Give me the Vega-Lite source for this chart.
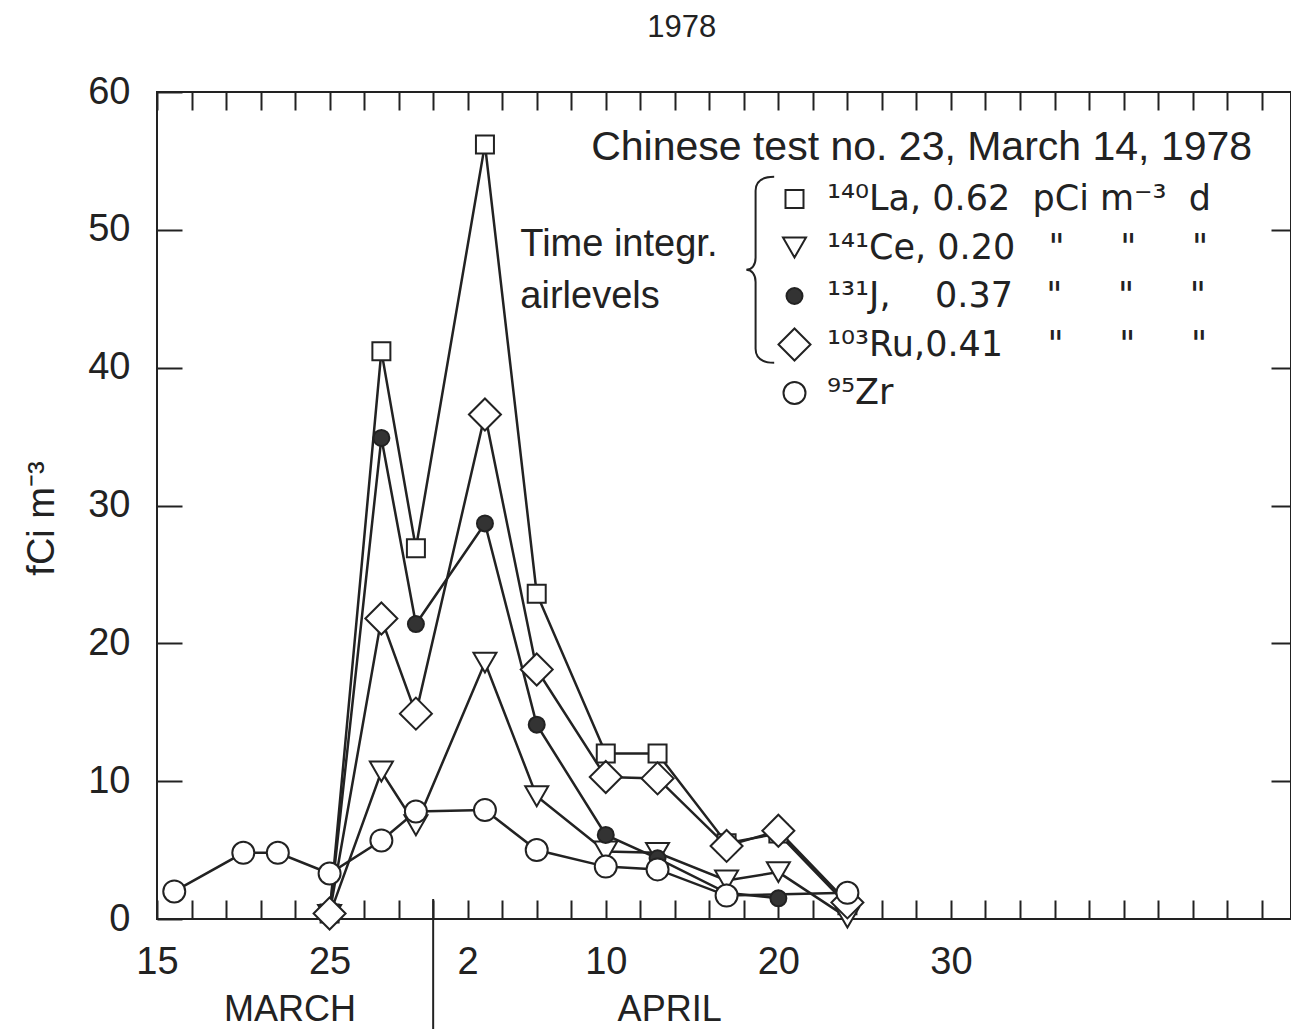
{
  "$schema": "https://vega.github.io/schema/vega-lite/v6.json",
  "width": 1134,
  "height": 827,
  "autosize": {"type": "none"},
  "padding": {"left": 157, "top": 92, "right": 0, "bottom": 110},
  "background": "white",
  "config": {
    "view": {"stroke": "#222", "strokeWidth": 2},
    "font": "Liberation Sans",
    "axis": {"grid": false, "domain": false, "tickColor": "#222", "tickWidth": 2, "labelColor": "#222", "labelFont": "Liberation Sans", "labelFontSize": 38, "labelOverlap": false, "labelBound": false, "labelFlush": false},
    "legend": {"orient": "none", "legendX": 620, "legendY": 85, "padding": 0, "labelFont": "DejaVu Sans", "labelFontSize": 35, "labelColor": "#222", "labelLimit": 900, "clipHeight": 44, "rowPadding": 4.5, "labelOffset": 15, "symbolStrokeColor": "#222", "symbolStrokeWidth": 2}
  },
  "data": {"values": [
    {"isotope": "La", "day": 25, "value": 0.4},
    {"isotope": "La", "day": 28, "value": 41.2},
    {"isotope": "La", "day": 30, "value": 26.9},
    {"isotope": "La", "day": 34, "value": 56.2},
    {"isotope": "La", "day": 37, "value": 23.6},
    {"isotope": "La", "day": 41, "value": 12.0},
    {"isotope": "La", "day": 44, "value": 12.0},
    {"isotope": "La", "day": 48, "value": 5.5},
    {"isotope": "La", "day": 51, "value": 6.2},
    {"isotope": "La", "day": 55, "value": 1.0},
    {"isotope": "Ce", "day": 25, "value": 0.3},
    {"isotope": "Ce", "day": 28, "value": 10.7},
    {"isotope": "Ce", "day": 30, "value": 6.8},
    {"isotope": "Ce", "day": 34, "value": 18.6},
    {"isotope": "Ce", "day": 37, "value": 8.9},
    {"isotope": "Ce", "day": 41, "value": 4.9},
    {"isotope": "Ce", "day": 44, "value": 4.8},
    {"isotope": "Ce", "day": 48, "value": 2.8},
    {"isotope": "Ce", "day": 51, "value": 3.4},
    {"isotope": "Ce", "day": 55, "value": 0.1},
    {"isotope": "J", "day": 25, "value": 0.4},
    {"isotope": "J", "day": 28, "value": 34.9},
    {"isotope": "J", "day": 30, "value": 21.4},
    {"isotope": "J", "day": 34, "value": 28.7},
    {"isotope": "J", "day": 37, "value": 14.1},
    {"isotope": "J", "day": 41, "value": 6.1},
    {"isotope": "J", "day": 44, "value": 4.4},
    {"isotope": "J", "day": 48, "value": 1.9},
    {"isotope": "J", "day": 51, "value": 1.5},
    {"isotope": "Ru", "day": 25, "value": 0.4},
    {"isotope": "Ru", "day": 28, "value": 21.8},
    {"isotope": "Ru", "day": 30, "value": 14.9},
    {"isotope": "Ru", "day": 34, "value": 36.6},
    {"isotope": "Ru", "day": 37, "value": 18.1},
    {"isotope": "Ru", "day": 41, "value": 10.3},
    {"isotope": "Ru", "day": 44, "value": 10.2},
    {"isotope": "Ru", "day": 48, "value": 5.3},
    {"isotope": "Ru", "day": 51, "value": 6.4},
    {"isotope": "Ru", "day": 55, "value": 1.2},
    {"isotope": "Zr", "day": 16, "value": 2.0},
    {"isotope": "Zr", "day": 20, "value": 4.8},
    {"isotope": "Zr", "day": 22, "value": 4.8},
    {"isotope": "Zr", "day": 25, "value": 3.3},
    {"isotope": "Zr", "day": 28, "value": 5.7},
    {"isotope": "Zr", "day": 30, "value": 7.8},
    {"isotope": "Zr", "day": 34, "value": 7.9},
    {"isotope": "Zr", "day": 37, "value": 5.0},
    {"isotope": "Zr", "day": 41, "value": 3.8},
    {"isotope": "Zr", "day": 44, "value": 3.6},
    {"isotope": "Zr", "day": 48, "value": 1.7},
    {"isotope": "Zr", "day": 55, "value": 1.9}
  ]},
  "layer": [
    {
      "mark": {"type": "line", "stroke": "#222", "strokeWidth": 2.5},
      "encoding": {
        "x": {"field": "day", "type": "quantitative", "scale": {"domain": [15, 80.7], "nice": false, "zero": false},
          "axis": {"orient": "bottom", "title": null, "values": [15,17,19,21,23,25,27,29,31,33,35,37,39,41,43,45,47,49,51,53,55,57,59,61,63,65,67,69,71,73,75,77,79], "tickSize": -19, "labelPadding": 43,
            "labelExpr": "datum.value == 15 ? '15' : datum.value == 25 ? '25' : datum.value == 33 ? '2' : datum.value == 41 ? '10' : datum.value == 51 ? '20' : datum.value == 61 ? '30' : ''"}},
        "y": {"field": "value", "type": "quantitative", "scale": {"domain": [0, 60], "nice": false},
          "axis": {"orient": "left", "values": [0,10,20,30,40,50,60], "tickSize": -25, "labelPadding": 52, "title": "fCi m⁻³", "titleFont": "Liberation Sans", "titleFontSize": 38, "titleFontWeight": "normal", "titleColor": "#222", "titleX": -104, "titleY": 426, "titleAngle": -90, "titleAlign": "center", "titleBaseline": "alphabetic"}},
        "detail": {"field": "isotope", "type": "nominal"}
      }
    },
    {
      "mark": {"type": "point", "filled": true, "strokeWidth": 2, "opacity": 1},
      "encoding": {
        "x": {"field": "day", "type": "quantitative", "axis": {"orient": "top", "title": null, "labels": false, "values": [15,17,19,21,23,25,27,29,31,33,35,37,39,41,43,45,47,49,51,53,55,57,59,61,63,65,67,69,71,73,75,77,79], "tickSize": -18}},
        "y": {"field": "value", "type": "quantitative", "axis": {"orient": "right", "title": null, "labels": false, "values": [10,20,30,40,50], "tickSize": -20}},
        "shape": {"field": "isotope", "type": "nominal", "scale": {"domain": ["La","Ce","J","Ru","Zr"], "range": ["square","triangle-down","circle","diamond","circle"]},
          "legend": {"title": null, "symbolStrokeWidth": 2, "labelExpr": "datum.label == 'La' ? '¹⁴⁰La, 0.62\u00a0\u00a0pCi\u00a0m⁻³\u00a0\u00a0d' : datum.label == 'Ce' ? '¹⁴¹Ce, 0.20\u00a0\u00a0\u00a0\"\u00a0\u00a0\u00a0\u00a0\u00a0\"\u00a0\u00a0\u00a0\u00a0\u00a0\"' : datum.label == 'J' ? '¹³¹J,\u00a0\u00a0\u00a0\u00a00.37\u00a0\u00a0\u00a0\"\u00a0\u00a0\u00a0\u00a0\u00a0\"\u00a0\u00a0\u00a0\u00a0\u00a0\"' : datum.label == 'Ru' ? '¹⁰³Ru,0.41\u00a0\u00a0\u00a0\u00a0\"\u00a0\u00a0\u00a0\u00a0\u00a0\"\u00a0\u00a0\u00a0\u00a0\u00a0\"' : '\u00a0⁹⁵Zr'"}},
        "fill": {"field": "isotope", "type": "nominal", "scale": {"domain": ["La","Ce","J","Ru","Zr"], "range": ["#ffffff","#ffffff","#333333","#ffffff","#ffffff"]},
          "legend": {"title": null, "symbolStrokeWidth": 2, "labelExpr": "datum.label == 'La' ? '¹⁴⁰La, 0.62\u00a0\u00a0pCi\u00a0m⁻³\u00a0\u00a0d' : datum.label == 'Ce' ? '¹⁴¹Ce, 0.20\u00a0\u00a0\u00a0\"\u00a0\u00a0\u00a0\u00a0\u00a0\"\u00a0\u00a0\u00a0\u00a0\u00a0\"' : datum.label == 'J' ? '¹³¹J,\u00a0\u00a0\u00a0\u00a00.37\u00a0\u00a0\u00a0\"\u00a0\u00a0\u00a0\u00a0\u00a0\"\u00a0\u00a0\u00a0\u00a0\u00a0\"' : datum.label == 'Ru' ? '¹⁰³Ru,0.41\u00a0\u00a0\u00a0\u00a0\"\u00a0\u00a0\u00a0\u00a0\u00a0\"\u00a0\u00a0\u00a0\u00a0\u00a0\"' : '\u00a0⁹⁵Zr'"}},
        "stroke": {"field": "isotope", "type": "nominal", "scale": {"domain": ["La","Ce","J","Ru","Zr"], "range": ["#222222","#222222","#222222","#222222","#222222"]},
          "legend": {"title": null, "symbolStrokeWidth": 2, "labelExpr": "datum.label == 'La' ? '¹⁴⁰La, 0.62\u00a0\u00a0pCi\u00a0m⁻³\u00a0\u00a0d' : datum.label == 'Ce' ? '¹⁴¹Ce, 0.20\u00a0\u00a0\u00a0\"\u00a0\u00a0\u00a0\u00a0\u00a0\"\u00a0\u00a0\u00a0\u00a0\u00a0\"' : datum.label == 'J' ? '¹³¹J,\u00a0\u00a0\u00a0\u00a00.37\u00a0\u00a0\u00a0\"\u00a0\u00a0\u00a0\u00a0\u00a0\"\u00a0\u00a0\u00a0\u00a0\u00a0\"' : datum.label == 'Ru' ? '¹⁰³Ru,0.41\u00a0\u00a0\u00a0\u00a0\"\u00a0\u00a0\u00a0\u00a0\u00a0\"\u00a0\u00a0\u00a0\u00a0\u00a0\"' : '\u00a0⁹⁵Zr'"}},
        "size": {"field": "isotope", "type": "nominal", "scale": {"type": "ordinal", "domain": ["La","Ce","J","Ru","Zr"], "range": [324, 529, 256, 1024, 484]},
          "legend": {"title": null, "symbolStrokeWidth": 2, "labelExpr": "datum.label == 'La' ? '¹⁴⁰La, 0.62\u00a0\u00a0pCi\u00a0m⁻³\u00a0\u00a0d' : datum.label == 'Ce' ? '¹⁴¹Ce, 0.20\u00a0\u00a0\u00a0\"\u00a0\u00a0\u00a0\u00a0\u00a0\"\u00a0\u00a0\u00a0\u00a0\u00a0\"' : datum.label == 'J' ? '¹³¹J,\u00a0\u00a0\u00a0\u00a00.37\u00a0\u00a0\u00a0\"\u00a0\u00a0\u00a0\u00a0\u00a0\"\u00a0\u00a0\u00a0\u00a0\u00a0\"' : datum.label == 'Ru' ? '¹⁰³Ru,0.41\u00a0\u00a0\u00a0\u00a0\"\u00a0\u00a0\u00a0\u00a0\u00a0\"\u00a0\u00a0\u00a0\u00a0\u00a0\"' : '\u00a0⁹⁵Zr'"}}
      }
    },
    {
      "data": {"values": [{}]},
      "mark": {"type": "rule", "stroke": "#222", "strokeWidth": 2},
      "encoding": {
        "x": {"datum": 31, "type": "quantitative", "axis": null},
        "y": {"datum": 1.45, "type": "quantitative", "axis": null},
        "y2": {"datum": -8.1}
      }
    },
    {
      "data": {"values": [{}]},
      "mark": {"type": "text", "text": "1978", "font": "Liberation Sans", "fontSize": 31, "color": "#222", "align": "center", "baseline": "middle"},
      "encoding": {
        "x": {"datum": 45.4, "type": "quantitative", "axis": null},
        "y": {"datum": 64.66, "type": "quantitative", "axis": null}
      }
    },
    {
      "data": {"values": [{}]},
      "mark": {"type": "text", "text": "MARCH", "font": "Liberation Sans", "fontSize": 36, "color": "#222", "align": "center", "baseline": "middle"},
      "encoding": {
        "x": {"datum": 22.7, "type": "quantitative", "axis": null},
        "y": {"datum": -6.6, "type": "quantitative", "axis": null}
      }
    },
    {
      "data": {"values": [{}]},
      "mark": {"type": "text", "text": "APRIL", "font": "Liberation Sans", "fontSize": 36, "color": "#222", "align": "center", "baseline": "middle"},
      "encoding": {
        "x": {"datum": 44.7, "type": "quantitative", "axis": null},
        "y": {"datum": -6.6, "type": "quantitative", "axis": null}
      }
    },
    {
      "data": {"values": [{}]},
      "mark": {"type": "text", "text": "Chinese test  no. 23, March 14, 1978", "font": "Liberation Sans", "fontSize": 41, "color": "#222", "align": "center", "baseline": "middle"},
      "encoding": {
        "x": {"datum": 59.3, "type": "quantitative", "axis": null},
        "y": {"datum": 55.95, "type": "quantitative", "axis": null}
      }
    },
    {
      "data": {"values": [{}]},
      "mark": {"type": "text", "text": "Time integr.", "font": "Liberation Sans", "fontSize": 38, "color": "#222", "align": "left", "baseline": "middle"},
      "encoding": {
        "x": {"datum": 36.05, "type": "quantitative", "axis": null},
        "y": {"datum": 48.9, "type": "quantitative", "axis": null}
      }
    },
    {
      "data": {"values": [{}]},
      "mark": {"type": "text", "text": "airlevels", "font": "Liberation Sans", "fontSize": 38, "color": "#222", "align": "left", "baseline": "middle"},
      "encoding": {
        "x": {"datum": 36.05, "type": "quantitative", "axis": null},
        "y": {"datum": 45.15, "type": "quantitative", "axis": null}
      }
    },
    {
      "data": {"values": [{}]},
      "mark": {"type": "point", "shape": "M0.2,-1C0.06,-1,0,-0.95,0,-0.85L0,-0.13C0,-0.05,-0.04,0,-0.1,0C-0.04,0,0,0.05,0,0.13L0,0.85C0,0.95,0.06,1,0.2,1", "filled": false, "stroke": "#222", "strokeWidth": 2, "size": 34596, "opacity": 1},
      "encoding": {
        "x": {"datum": 49.68, "type": "quantitative", "axis": null},
        "y": {"datum": 47.1, "type": "quantitative", "axis": null}
      }
    }
  ],
  "resolve": {"axis": {"x": "independent", "y": "independent"}}
}
